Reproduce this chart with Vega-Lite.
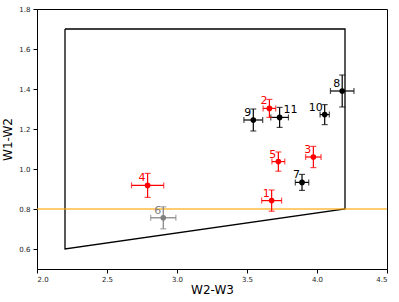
{
  "$schema": "https://vega.github.io/schema/vega-lite/v6.json",
  "width": 350,
  "height": 260,
  "autosize": "none",
  "padding": {"left": 37, "top": 9, "right": 12, "bottom": 33},
  "config": {
    "view": {"stroke": "black", "strokeWidth": 1},
    "axis": {"grid": false, "domainColor": "black", "tickColor": "black", "tickSize": 4, "labelFont": "DejaVu Sans", "labelFontSize": 7, "labelColor": "#222", "titleFont": "DejaVu Sans", "titleFontSize": 12, "titleFontWeight": "normal", "titleColor": "black"},
    "font": "DejaVu Sans"
  },
  "datasets": {
    "pts": [
      {"label": "1", "grp": "red", "x": 3.676, "y": 0.842, "xlo": 3.605, "xhi": 3.747, "ylo": 0.789, "yhi": 0.895},
      {"label": "2", "grp": "red", "x": 3.66, "y": 1.303, "xlo": 3.615, "xhi": 3.705, "ylo": 1.258, "yhi": 1.348},
      {"label": "3", "grp": "red", "x": 3.974, "y": 1.06, "xlo": 3.919, "xhi": 4.029, "ylo": 1.007, "yhi": 1.113},
      {"label": "4", "grp": "red", "x": 2.79, "y": 0.918, "xlo": 2.675, "xhi": 2.905, "ylo": 0.858, "yhi": 0.978},
      {"label": "5", "grp": "red", "x": 3.724, "y": 1.037, "xlo": 3.678, "xhi": 3.77, "ylo": 0.989, "yhi": 1.085},
      {"label": "6", "grp": "gray", "x": 2.902, "y": 0.756, "xlo": 2.812, "xhi": 2.992, "ylo": 0.701, "yhi": 0.811},
      {"label": "7", "grp": "black", "x": 3.893, "y": 0.933, "xlo": 3.845, "xhi": 3.941, "ylo": 0.893, "yhi": 0.973},
      {"label": "8", "grp": "black", "x": 4.18, "y": 1.39, "xlo": 4.096, "xhi": 4.264, "ylo": 1.31, "yhi": 1.47},
      {"label": "9", "grp": "black", "x": 3.545, "y": 1.245, "xlo": 3.478, "xhi": 3.612, "ylo": 1.19, "yhi": 1.3},
      {"label": "10", "grp": "black", "x": 4.055, "y": 1.272, "xlo": 4.022, "xhi": 4.088, "ylo": 1.222, "yhi": 1.322},
      {"label": "11", "grp": "black", "x": 3.733, "y": 1.258, "xlo": 3.67, "xhi": 3.796, "ylo": 1.208, "yhi": 1.308}
    ],
    "poly": [
      {"o": 0, "x": 2.2, "y": 1.7},
      {"o": 1, "x": 4.2, "y": 1.7},
      {"o": 2, "x": 4.2, "y": 0.8},
      {"o": 3, "x": 2.2, "y": 0.6},
      {"o": 4, "x": 2.2, "y": 1.7}
    ]
  },
  "encoding": {
    "x": {"type": "quantitative", "scale": {"domain": [2, 4.5], "nice": false, "zero": false}, "axis": {"title": "W2-W3", "values": [2, 2.5, 3, 3.5, 4, 4.5], "format": ".1f", "titlePadding": 2}},
    "y": {"type": "quantitative", "scale": {"domain": [0.5, 1.8], "nice": false, "zero": false}, "axis": {"title": "W1-W2", "values": [0.6, 0.8, 1.0, 1.2, 1.4, 1.6, 1.8], "format": ".1f", "labelPadding": 3, "titlePadding": 4}}
  },
  "layer": [
    {
      "data": {"name": "poly"},
      "mark": {"type": "line", "color": "black", "strokeWidth": 1.3},
      "encoding": {"x": {"field": "x", "type": "quantitative"}, "y": {"field": "y", "type": "quantitative"}, "order": {"field": "o", "type": "quantitative"}}
    },
    {
      "data": {"values": [{"v": 0.8}]},
      "mark": {"type": "rule", "color": "#FFA500", "opacity": 0.75, "strokeWidth": 1.5},
      "encoding": {"y": {"field": "v", "type": "quantitative"}}
    },
    {
      "data": {"name": "pts"},
      "layer": [
        {"mark": {"type": "rule", "strokeWidth": 1.2}, "encoding": {"x": {"field": "xlo", "type": "quantitative"}, "x2": {"field": "xhi"}, "y": {"field": "y", "type": "quantitative"}}},
        {"mark": {"type": "rule", "strokeWidth": 1.2}, "encoding": {"y": {"field": "ylo", "type": "quantitative"}, "y2": {"field": "yhi"}, "x": {"field": "x", "type": "quantitative"}}},
        {"mark": {"type": "tick", "orient": "vertical", "size": 6, "thickness": 1.2}, "encoding": {"x": {"field": "xlo", "type": "quantitative"}, "y": {"field": "y", "type": "quantitative"}}},
        {"mark": {"type": "tick", "orient": "vertical", "size": 6, "thickness": 1.2}, "encoding": {"x": {"field": "xhi", "type": "quantitative"}, "y": {"field": "y", "type": "quantitative"}}},
        {"mark": {"type": "tick", "orient": "horizontal", "size": 6, "thickness": 1.2}, "encoding": {"x": {"field": "x", "type": "quantitative"}, "y": {"field": "ylo", "type": "quantitative"}}},
        {"mark": {"type": "tick", "orient": "horizontal", "size": 6, "thickness": 1.2}, "encoding": {"x": {"field": "x", "type": "quantitative"}, "y": {"field": "yhi", "type": "quantitative"}}},
        {"mark": {"type": "point", "filled": true, "shape": "circle", "size": 32, "opacity": 1}, "encoding": {"x": {"field": "x", "type": "quantitative"}, "y": {"field": "y", "type": "quantitative"}}},
        {"transform": [{"filter": "datum.label != '11'"}], "mark": {"type": "text", "align": "right", "baseline": "bottom", "dx": -2, "dy": -2, "fontSize": 11}, "encoding": {"x": {"field": "x", "type": "quantitative"}, "y": {"field": "y", "type": "quantitative"}, "text": {"field": "label"}}},
        {"transform": [{"filter": "datum.label == '11'"}], "mark": {"type": "text", "align": "left", "baseline": "bottom", "dx": 4, "dy": -2, "fontSize": 11}, "encoding": {"x": {"field": "x", "type": "quantitative"}, "y": {"field": "y", "type": "quantitative"}, "text": {"field": "label"}}}
      ],
      "encoding": {
        "color": {"field": "grp", "type": "nominal", "scale": {"domain": ["red", "gray", "black"], "range": ["#ff0000", "#808080", "#000000"]}, "legend": null}
      }
    }
  ]
}
